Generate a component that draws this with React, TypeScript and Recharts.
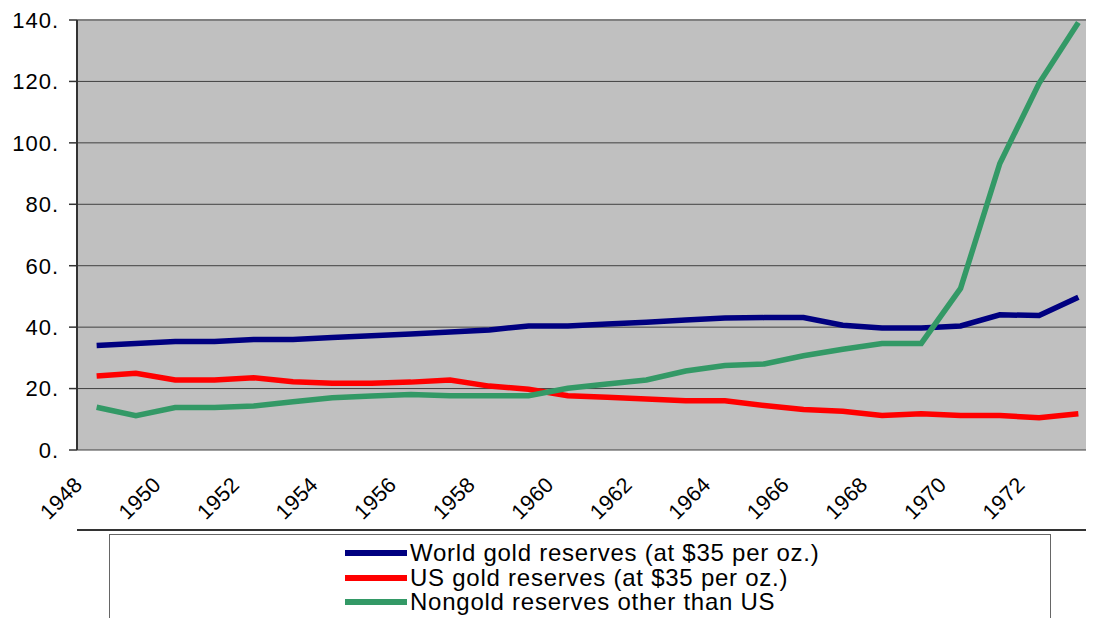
import { CartesianGrid, Line, LineChart, ReferenceLine, XAxis, YAxis } from "recharts";

const years = [
  1948, 1949, 1950, 1951, 1952, 1953, 1954, 1955, 1956, 1957, 1958, 1959, 1960,
  1961, 1962, 1963, 1964, 1965, 1966, 1967, 1968, 1969, 1970, 1971, 1972, 1973,
];
const worldGold = [
  34.0, 34.7, 35.3, 35.3, 36.0, 36.0, 36.6, 37.2, 37.8, 38.4, 39.1, 40.4, 40.4,
  41.0, 41.6, 42.3, 43.0, 43.1, 43.1, 40.6, 39.7, 39.7, 40.4, 44.0, 43.8, 49.7,
];
const usGold = [
  24.1, 25.0, 22.8, 22.8, 23.5, 22.2, 21.7, 21.7, 22.1, 22.8, 20.8, 19.8, 17.7,
  17.2, 16.6, 16.0, 16.0, 14.5, 13.2, 12.6, 11.2, 11.8, 11.2, 11.2, 10.5, 11.8,
];
const nongold = [
  13.9, 11.2, 13.8, 13.8, 14.3, 15.7, 17.0, 17.6, 18.1, 17.7, 17.7, 17.7, 20.1,
  21.5, 22.8, 25.7, 27.5, 28.0, 30.7, 32.8, 34.7, 34.7, 52.6, 93.3, 119.4, 139.2,
];
const yTicks = [0, 20, 40, 60, 80, 100, 120, 140];
const labelYears = [1948, 1950, 1952, 1954, 1956, 1958, 1960, 1962, 1964, 1966, 1968, 1970, 1972];

const series = [
  { key: "world", name: "World gold reserves (at $35 per oz.)", color: "#000080" },
  { key: "us", name: "US gold reserves (at $35 per oz.)", color: "#FF0000" },
  { key: "nongold", name: "Nongold reserves other than US", color: "#339966" },
];

const data = years.map((year, i) => ({
  year,
  world: worldGold[i],
  us: usGold[i],
  nongold: nongold[i],
}));

// Excel puts the tick marks between categories, so the marks axis uses the category edges
const boundaries = [...years.map((y) => y - 0.5), years[years.length - 1] + 0.5];
const domain = [boundaries[0], boundaries[boundaries.length - 1]];

const font = '"Liberation Sans", Arial, sans-serif';

function YearTick({ x, y, payload }: { x: number; y: number; payload: { value: number } }) {
  return (
    <g transform={`translate(${x - 13},${y + 36}) rotate(-45)`}>
      <text textAnchor="end" fontSize={21.5} letterSpacing={0.3} fontFamily={font} fill="#000">
        {payload.value}
      </text>
    </g>
  );
}

export default function App() {
  return (
    <div
      style={{
        position: "relative",
        width: 1094,
        height: 626,
        margin: -8,
        overflow: "hidden",
        background: "#fff",
      }}
    >
      <LineChart
        width={1100}
        height={626}
        data={data}
        margin={{ top: 20, right: 2, left: 0, bottom: 88 }}
      >
        <CartesianGrid vertical={false} stroke="#404040" fill="#C0C0C0" />
        <XAxis
          xAxisId="marks"
          type="number"
          dataKey="year"
          domain={domain}
          ticks={boundaries}
          tick={false}
          tickSize={8}
          height={8}
          tickLine={{ stroke: "#333", strokeWidth: 1.5 }}
          axisLine={{ stroke: "#333", strokeWidth: 2 }}
        />
        <XAxis
          xAxisId="labels"
          type="number"
          dataKey="year"
          domain={domain}
          ticks={labelYears}
          interval={0}
          tick={YearTick}
          tickSize={0}
          tickMargin={0}
          tickLine={false}
          axisLine={false}
          height={80}
        />
        <YAxis
          domain={[0, 140]}
          ticks={yTicks}
          width={77}
          tickSize={8}
          tickMargin={10}
          tickFormatter={(v) => `${v}.`}
          tick={{ fill: "#000", fontSize: 22, letterSpacing: 1, fontFamily: font }}
          tickLine={{ stroke: "#333", strokeWidth: 1.5 }}
          axisLine={{ stroke: "#333", strokeWidth: 2 }}
        />
        <ReferenceLine xAxisId="marks" y={140} stroke="#808080" strokeWidth={2} />
        {series.map((s) => (
          <Line
            key={s.key}
            xAxisId="marks"
            type="linear"
            dataKey={s.key}
            name={s.name}
            stroke={s.color}
            strokeWidth={5.5}
            dot={false}
            activeDot={false}
            isAnimationActive={false}
          />
        ))}
      </LineChart>
      <div
        style={{
          position: "absolute",
          left: 109,
          top: 534,
          width: 942,
          height: 100,
          border: "1.5px solid #666",
          boxSizing: "border-box",
          background: "#fff",
        }}
      >
        {series.map((s, i) => (
          <div
            key={s.key}
            style={{
              position: "absolute",
              left: 235,
              top: 5 + i * 24.5,
              display: "flex",
              alignItems: "center",
              fontFamily: font,
              fontSize: 24,
              letterSpacing: 0.75,
              lineHeight: "26px",
              whiteSpace: "nowrap",
              color: "#000",
            }}
          >
            <span style={{ display: "inline-block", width: 62, height: 6, background: s.color, marginRight: 3 }} />
            {s.name}
          </div>
        ))}
      </div>
    </div>
  );
}
